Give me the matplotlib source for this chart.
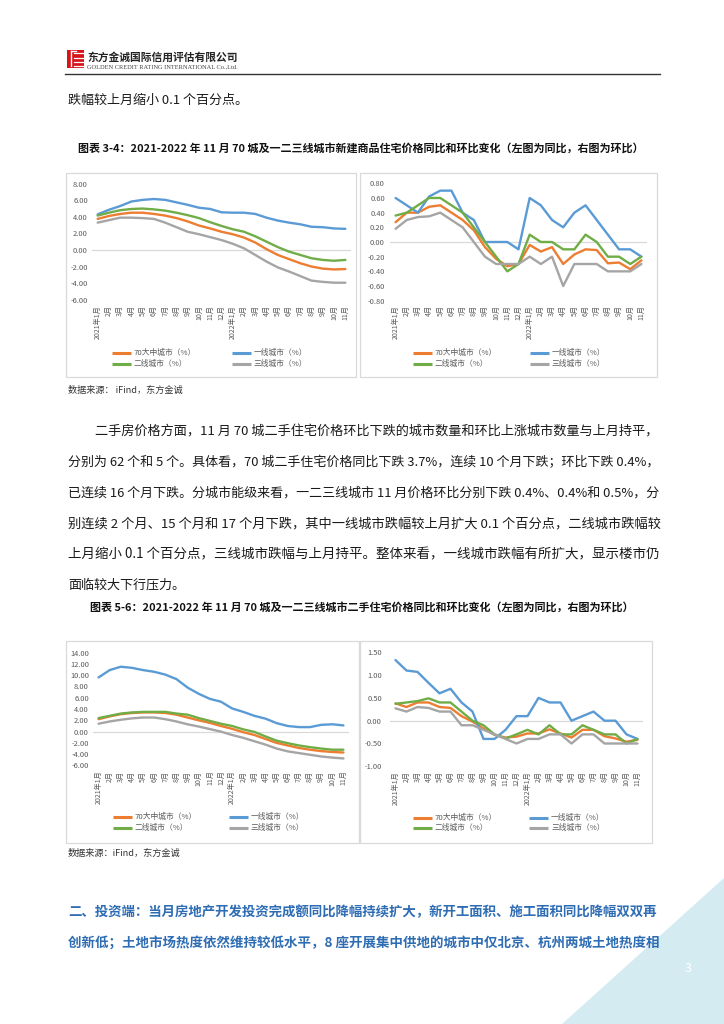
import matplotlib
matplotlib.use("Agg")
import matplotlib.pyplot as plt
from matplotlib.lines import Line2D
from matplotlib.patches import Rectangle, Polygon

# ---------------- data ----------------
months = ["2021年1月", "2月", "3月", "4月", "5月", "6月", "7月", "8月", "9月", "10月", "11月", "12月",
          "2022年1月", "2月", "3月", "4月", "5月", "6月", "7月", "8月", "9月", "10月", "11月"]
series_labels = ["70大中城市（%）", "一线城市（%）", "二线城市（%）", "三线城市（%）"]

# new homes, year-on-year (%)
new_yoy_70 = [3.75, 4.1, 4.35, 4.5, 4.5, 4.35, 4.15, 3.85, 3.45, 2.95, 2.6, 2.2, 1.9, 1.5, 0.9, 0.1, -0.6, -1.1, -1.6, -2.0, -2.25, -2.35, -2.3]
new_yoy_t1 = [4.3, 4.85, 5.3, 5.85, 6.05, 6.15, 6.05, 5.75, 5.45, 5.1, 4.95, 4.55, 4.5, 4.5, 4.35, 3.9, 3.55, 3.3, 3.1, 2.8, 2.75, 2.6, 2.55]
new_yoy_t2 = [4.15, 4.5, 4.8, 4.95, 5.0, 4.9, 4.75, 4.5, 4.2, 3.85, 3.35, 2.9, 2.5, 2.2, 1.65, 1.0, 0.35, -0.2, -0.6, -1.0, -1.2, -1.3, -1.2]
new_yoy_t3 = [3.3, 3.6, 3.9, 3.9, 3.85, 3.75, 3.3, 2.75, 2.2, 1.9, 1.55, 1.2, 0.75, 0.2, -0.6, -1.4, -2.1, -2.6, -3.15, -3.7, -3.85, -3.95, -3.95]

# new homes, month-on-month (%)
new_mom_70 = [0.27, 0.4, 0.4, 0.48, 0.5, 0.4, 0.3, 0.16, -0.07, -0.23, -0.33, -0.3, -0.04, -0.13, -0.07, -0.3, -0.17, -0.1, -0.11, -0.29, -0.28, -0.37, -0.25]
new_mom_t1 = [0.6, 0.5, 0.4, 0.62, 0.7, 0.7, 0.4, 0.3, 0.0, 0.0, 0.0, -0.1, 0.6, 0.5, 0.3, 0.2, 0.4, 0.5, 0.3, 0.1, -0.1, -0.1, -0.2]
new_mom_t2 = [0.36, 0.4, 0.5, 0.6, 0.6, 0.5, 0.4, 0.2, 0.0, -0.2, -0.4, -0.3, 0.1, 0.0, 0.0, -0.1, -0.1, 0.1, 0.0, -0.2, -0.2, -0.3, -0.2]
new_mom_t3 = [0.18, 0.3, 0.34, 0.35, 0.4, 0.3, 0.2, 0.0, -0.2, -0.3, -0.3, -0.3, -0.2, -0.3, -0.2, -0.6, -0.3, -0.3, -0.3, -0.4, -0.4, -0.4, -0.3]

# second-hand homes, year-on-year (%)
old_yoy_70 = [2.2, 2.7, 3.1, 3.3, 3.4, 3.4, 3.3, 3.0, 2.5, 2.0, 1.55, 1.0, 0.5, -0.1, -0.6, -1.3, -2.0, -2.45, -2.9, -3.2, -3.45, -3.6, -3.7]
old_yoy_t1 = [9.6, 10.9, 11.5, 11.3, 10.9, 10.6, 10.1, 9.3, 7.8, 6.7, 5.8, 5.3, 4.1, 3.5, 2.8, 2.3, 1.5, 1.0, 0.8, 0.8, 1.2, 1.3, 1.1]
old_yoy_t2 = [2.4, 2.8, 3.2, 3.4, 3.5, 3.5, 3.5, 3.2, 3.0, 2.4, 1.9, 1.4, 1.0, 0.4, -0.05, -0.85, -1.6, -2.05, -2.45, -2.75, -3.0, -3.2, -3.2]
old_yoy_t3 = [1.4, 1.8, 2.1, 2.35, 2.5, 2.5, 2.2, 1.8, 1.3, 0.9, 0.45, 0.0, -0.6, -1.1, -1.7, -2.3, -3.0, -3.5, -3.8, -4.1, -4.4, -4.6, -4.75]

# second-hand homes, month-on-month (%)
old_mom_70 = [0.38, 0.3, 0.4, 0.4, 0.3, 0.28, 0.1, -0.02, -0.17, -0.31, -0.37, -0.35, -0.28, -0.28, -0.19, -0.28, -0.37, -0.2, -0.2, -0.34, -0.39, -0.46, -0.42]
old_mom_t1 = [1.33, 1.1, 1.07, 0.83, 0.6, 0.7, 0.4, 0.2, -0.4, -0.4, -0.2, 0.1, 0.1, 0.5, 0.4, 0.4, 0.0, 0.1, 0.2, 0.0, 0.0, -0.3, -0.4]
old_mom_t2 = [0.37, 0.4, 0.43, 0.49, 0.4, 0.4, 0.2, 0.0, -0.1, -0.3, -0.39, -0.3, -0.2, -0.3, -0.1, -0.3, -0.3, -0.1, -0.2, -0.3, -0.3, -0.5, -0.4]
old_mom_t3 = [0.27, 0.2, 0.3, 0.28, 0.2, 0.2, -0.1, -0.1, -0.2, -0.3, -0.4, -0.5, -0.4, -0.4, -0.3, -0.3, -0.5, -0.3, -0.3, -0.5, -0.5, -0.5, -0.5]

yticks_new_yoy = [-6, -4, -2, 0, 2, 4, 6, 8]
yticks_new_mom = [-0.8, -0.6, -0.4, -0.2, 0.0, 0.2, 0.4, 0.6, 0.8]
yticks_old_yoy = [-6, -4, -2, 0, 2, 4, 6, 8, 10, 12, 14]
yticks_old_mom = [-1.0, -0.5, 0.0, 0.5, 1.0, 1.5]

# ---------------- style ----------------
COLORS = ["#ED7D31", "#5B9BD5", "#70AD47", "#A5A5A5"]
TICK_C = "#595959"
plt.rcParams["font.family"] = ["Noto Sans CJK SC", "DejaVu Sans"]

W, H = 724, 1024
fig = plt.figure(figsize=(W / 100, H / 100), dpi=100)
fig.patch.set_facecolor("white")
renderer = fig.canvas.get_renderer()


def X(x):
    return x / W


def Y(y):
    return 1 - y / H


def fit_text(x0, x1, y, s, size, **kw):
    t = fig.text(X(x0), Y(y), s, fontsize=size, ha="left", va="center", **kw)
    w = t.get_window_extent(renderer).width
    t.set_fontsize(size * (x1 - x0) / w)
    return t


def panel(x0, y0, x1, y1):
    fig.add_artist(Rectangle((X(x0), Y(y1)), (x1 - x0) / W, (y1 - y0) / H,
                             transform=fig.transFigure, fill=False, ec="#d9d9d9", lw=0.9))


def chart(box, series, ylim, yticks, ypad, xpad):
    x0, y0, x1, y1 = box
    ax = fig.add_axes([X(x0), Y(y1), (x1 - x0) / W, (y1 - y0) / H])
    xs = list(range(len(months)))
    ax.axhline(0, color="#d9d9d9", lw=0.9, zorder=1)
    for vals, c in zip(series, COLORS):
        ax.plot(xs, vals, color=c, lw=1.7, solid_joinstyle="round", solid_capstyle="round", zorder=2)
    ax.set_xlim(-0.5, len(months) - 0.5)
    ax.set_ylim(*ylim)
    ax.set_yticks(yticks)
    ax.set_yticklabels([f"{v:.2f}" for v in yticks])
    ax.set_xticks(xs)
    ax.set_xticklabels(months, rotation=90)
    ax.tick_params(axis="both", length=0, labelsize=5.4, labelcolor=TICK_C)
    ax.tick_params(axis="y", pad=ypad)
    ax.tick_params(axis="x", pad=xpad, labelsize=5.1)
    for s in ax.spines.values():
        s.set_visible(False)
    ax.patch.set_alpha(0)
    return ax


def legend(cols, rows, linelen=19):
    order = [(0, 0), (0, 1), (1, 0), (1, 1)]  # (row, col)
    for i, (r, c) in enumerate(order):
        lx = cols[c]
        ly = rows[r]
        fig.add_artist(Line2D([X(lx), X(lx + linelen)], [Y(ly), Y(ly)], transform=fig.transFigure,
                              color=COLORS[i], lw=2.2, solid_capstyle="butt"))
        fig.text(X(lx + linelen + 3), Y(ly), series_labels[i], fontsize=5.6, color=TICK_C,
                 ha="left", va="center")


# ---------------- header ----------------
fig.add_artist(Rectangle((X(67), Y(68)), 17 / W, 18 / H, transform=fig.transFigure, fc="#D7141A", ec="none"))
for yy in (53, 57.5, 62, 66):
    fig.add_artist(Line2D([X(74), X(83)], [Y(yy), Y(yy)], transform=fig.transFigure, color="white", lw=0.9))
fig.add_artist(Line2D([X(71), X(71)], [Y(51), Y(66)], transform=fig.transFigure, color="white", lw=1.0))
fig.add_artist(Line2D([X(71), X(76)], [Y(51), Y(51)], transform=fig.transFigure, color="white", lw=1.0))
fit_text(87, 238, 57.5, "东方金诚国际信用评估有限公司", 8, color="#222222", fontweight="bold")
fit_text(87, 238, 66.5, "GOLDEN CREDIT RATING INTERNATIONAL Co.,Ltd.", 3.5, color="#444444",
         family=["Liberation Serif", "DejaVu Serif"])
fig.add_artist(Line2D([X(65), X(660)], [Y(73.5), Y(73.5)], transform=fig.transFigure, color="#333333", lw=1.0))

BODY_C = "#1a1a1a"
fig.text(X(68), Y(100), "跌幅较上月缩小 0.1 个百分点。", fontsize=9.4, color=BODY_C, ha="left", va="center")

# ---------------- figure 3-4 ----------------
fit_text(78, 642, 148, "图表 3-4：2021-2022 年 11 月 70 城及一二三线城市新建商品住宅价格同比和环比变化（左图为同比，右图为环比）",
         7.6, color="#111111", fontweight="bold")

panel(66, 173, 356, 377)
panel(360, 173, 657, 377)
chart((92, 183.7, 351, 299.7), [new_yoy_70, new_yoy_t1, new_yoy_t2, new_yoy_t3], (-6, 8), yticks_new_yoy, 2.9, 3.8)
chart((390, 183.3, 647, 300.7), [new_mom_70, new_mom_t1, new_mom_t2, new_mom_t3], (-0.8, 0.8), yticks_new_mom, 3.6, 3.1)
legend((112, 232), (353, 364))
legend((413, 530), (353, 364))

fig.text(X(68), Y(390), "数据来源： iFind，东方金诚", fontsize=6.6, color="#333333", ha="left", va="center")

# ---------------- paragraph ----------------
para = [
    (95, "二手房价格方面，11 月 70 城二手住宅价格环比下跌的城市数量和环比上涨城市数量与上月持平，"),
    (68, "分别为 62 个和 5 个。具体看，70 城二手住宅价格同比下跌 3.7%，连续 10 个月下跌；环比下跌 0.4%，"),
    (68, "已连续 16 个月下跌。分城市能级来看，一二三线城市 11 月价格环比分别下跌 0.4%、0.4%和 0.5%，分"),
    (68, "别连续 2 个月、15 个月和 17 个月下跌，其中一线城市跌幅较上月扩大 0.1 个百分点，二线城市跌幅较"),
    (68, "上月缩小 0.1 个百分点，三线城市跌幅与上月持平。整体来看，一线城市跌幅有所扩大，显示楼市仍"),
]
line_y = [432, 463, 493, 524, 554]
for (x0, s), yy in zip(para, line_y):
    fit_text(x0, 657, yy, s, 9.4, color=BODY_C)
fig.text(X(68), Y(585), "面临较大下行压力。", fontsize=9.4, color=BODY_C, ha="left", va="center")

# ---------------- figure 5-6 ----------------
fit_text(90, 633, 607, "图表 5-6：2021-2022 年 11 月 70 城及一二三线城市二手住宅价格同比和环比变化（左图为同比，右图为环比）",
         7.6, color="#111111", fontweight="bold")

panel(66, 641, 359, 843)
panel(360, 641, 652, 843)
chart((93, 652.6, 349, 765.5), [old_yoy_70, old_yoy_t1, old_yoy_t2, old_yoy_t3], (-6, 14), yticks_old_yoy, 2.9, 3.6)
chart((390, 652.3, 643, 766.3), [old_mom_70, old_mom_t1, old_mom_t2, old_mom_t3], (-1.0, 1.5), yticks_old_mom, 5.8, 3.4)
legend((113, 229), (817, 828))
legend((413, 529), (818, 828))

fig.text(X(68), Y(853), "数据来源：iFind，东方金诚", fontsize=6.6, color="#333333", ha="left", va="center")

# ---------------- blue heading ----------------
BLUE_T = "#2E6DB4"
fit_text(68, 657, 912, "二、投资端：当月房地产开发投资完成额同比降幅持续扩大，新开工面积、施工面积同比降幅双双再",
         9.4, color=BLUE_T, fontweight="bold")
fit_text(68, 657, 943, "创新低；土地市场热度依然维持较低水平，8 座开展集中供地的城市中仅北京、杭州两城土地热度相",
         9.4, color=BLUE_T, fontweight="bold")

# ---------------- corner decoration ----------------
fig.add_artist(Polygon([(X(562), Y(1024)), (X(724), Y(878)), (X(724), Y(1024))], closed=True,
                       transform=fig.transFigure, fc="#D5EBF2", ec="none", zorder=0))
fig.text(X(688), Y(968), "3", fontsize=9, color="white", ha="center", va="center")

fig.savefig("out.png", dpi=100, facecolor="white")
